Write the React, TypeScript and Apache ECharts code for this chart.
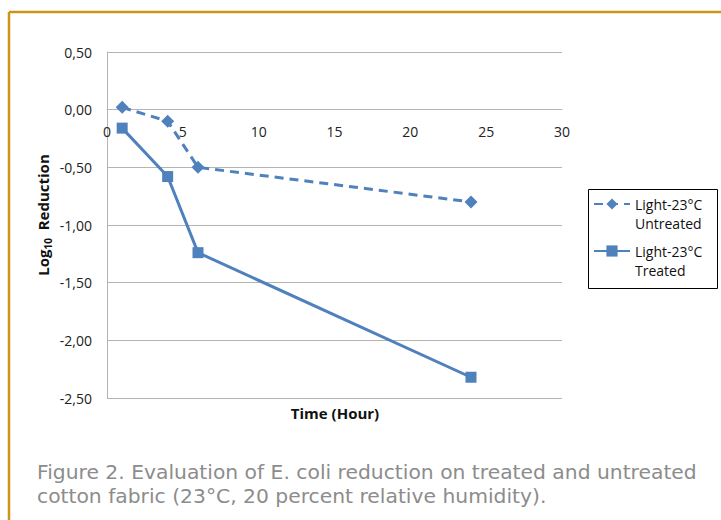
import React, { useEffect, useRef } from "react";
import * as echarts from "echarts";

const seriesNames = ["Light-23°C Untreated", "Light-23°C Treated"];
const untreated: [number, number][] = [
  [1, 0.02],
  [4, -0.1],
  [6, -0.5],
  [24, -0.8],
];
const treated: [number, number][] = [
  [1, -0.16],
  [4, -0.58],
  [6, -1.24],
  [24, -2.32],
];
const xTitle = "Time (Hour)";
const captionLines = [
  "Figure 2. Evaluation of E. coli reduction on treated and untreated",
  "cotton fabric (23°C, 20 percent relative humidity).",
];

const BLUE = "#4F81BD";
const GRID = "#B4B4B4";
const FONT = "'Open Sans', 'Noto Sans', sans-serif";

export default function App() {
  const ref = useRef<HTMLDivElement>(null);
  useEffect(() => {
    if (!ref.current) return;
    const chart = echarts.init(ref.current, null, { renderer: "svg" });
    chart.setOption({
      animation: false,
      backgroundColor: "#fff",
      grid: { left: 107, right: 159, top: 52, bottom: 122, containLabel: false },
      xAxis: {
        type: "value",
        min: 0,
        max: 30,
        interval: 5,
        position: "bottom",
        offset: 0,
        axisLine: { onZero: false, lineStyle: { color: GRID, width: 1 } },
        axisTick: { show: false },
        splitLine: { show: false },
        axisLabel: { margin: 15, fontSize: 14, color: "#222", fontFamily: FONT },
      },
      yAxis: {
        type: "value",
        min: -2.5,
        max: 0.5,
        interval: 0.5,
        axisLine: { show: true, onZero: false, lineStyle: { color: GRID, width: 1 } },
        axisTick: { show: false },
        splitLine: { show: true, lineStyle: { color: GRID, width: 1 } },
        axisLabel: {
          margin: 15,
          fontSize: 14,
          color: "#222",
          fontFamily: FONT,
          formatter: (v: number) => v.toFixed(2).replace(".", ","),
        },
      },
      legend: {
        orient: "vertical",
        left: 593,
        top: 175.5,
        padding: 0,
        itemGap: -10,
        itemWidth: 36,
        itemHeight: 14,
        data: seriesNames,
        formatter: (name: string) => "{e| }\n" + name.replace(" ", "\n"),
        textStyle: {
          fontSize: 14,
          lineHeight: 19,
          color: "#111",
          fontFamily: FONT,
          rich: {
            e: { fontSize: 14, lineHeight: 19 },
          },
        },
      },
      series: [
        {
          name: seriesNames[0],
          type: "line",
          data: untreated,
          symbol: "diamond",
          symbolSize: 13,
          lineStyle: { color: BLUE, width: 3, type: [9, 6] },
          itemStyle: { color: BLUE },
        },
        {
          name: seriesNames[1],
          type: "line",
          data: treated,
          symbol: "rect",
          symbolSize: 11,
          lineStyle: { color: BLUE, width: 3 },
          itemStyle: { color: BLUE },
        },
      ],
      graphic: [
        {
          type: "line",
          shape: { x1: 9, y1: 12, x2: 721, y2: 12 },
          style: { stroke: "#C9961A", lineWidth: 2.5 },
        },
        {
          type: "line",
          shape: { x1: 9, y1: 12, x2: 9, y2: 520 },
          style: { stroke: "#C9961A", lineWidth: 2.5 },
        },
        {
          type: "rect",
          shape: { x: 588.5, y: 189.5, width: 129, height: 99 },
          style: { fill: "none", stroke: "#000", lineWidth: 1 },
        },
        {
          type: "text",
          x: 335,
          y: 413,
          style: {
            text: xTitle,
            fontSize: 15,
            fontWeight: "bold",
            fontFamily: FONT,
            fill: "#111",
            align: "center",
            verticalAlign: "middle",
          },
        },
        {
          type: "text",
          x: 43,
          y: 215,
          rotation: Math.PI / 2,
          style: {
            text: "{b|Log}{s|10}{b|  Reduction}",
            align: "center",
            verticalAlign: "middle",
            rich: {
              b: { fontSize: 15, fontWeight: "bold", fontFamily: FONT, fill: "#111", lineHeight: 20 },
              s: { fontSize: 10, fontWeight: "bold", fontFamily: FONT, fill: "#111", lineHeight: 10, verticalAlign: "bottom" },
            },
          },
        },
        {
          type: "text",
          x: 37,
          y: 472,
          style: {
            text: captionLines[0],
            fontSize: 20.3,
            fontWeight: "normal",
            fontFamily: "'DejaVu Sans', sans-serif",
            fill: "#8C8C8C",
            align: "left",
            verticalAlign: "middle",
          },
        },
        {
          type: "text",
          x: 37,
          y: 496,
          style: {
            text: captionLines[1],
            fontSize: 20.3,
            fontWeight: "normal",
            fontFamily: "'DejaVu Sans', sans-serif",
            fill: "#8C8C8C",
            align: "left",
            verticalAlign: "middle",
          },
        },
      ],
    });
    // Place the x axis (line and labels) on the y = 0 line, using the library's own scale.
    const y0 = chart.convertToPixel({ yAxisIndex: 0 }, 0) as number;
    const yMin = chart.convertToPixel({ yAxisIndex: 0 }, -2.5) as number;
    chart.setOption({ xAxis: { offset: y0 - yMin } });
    return () => chart.dispose();
  }, []);
  return (
    <div
      ref={ref}
      style={{ position: "absolute", left: 0, top: 0, width: 721, height: 520 }}
    />
  );
}
